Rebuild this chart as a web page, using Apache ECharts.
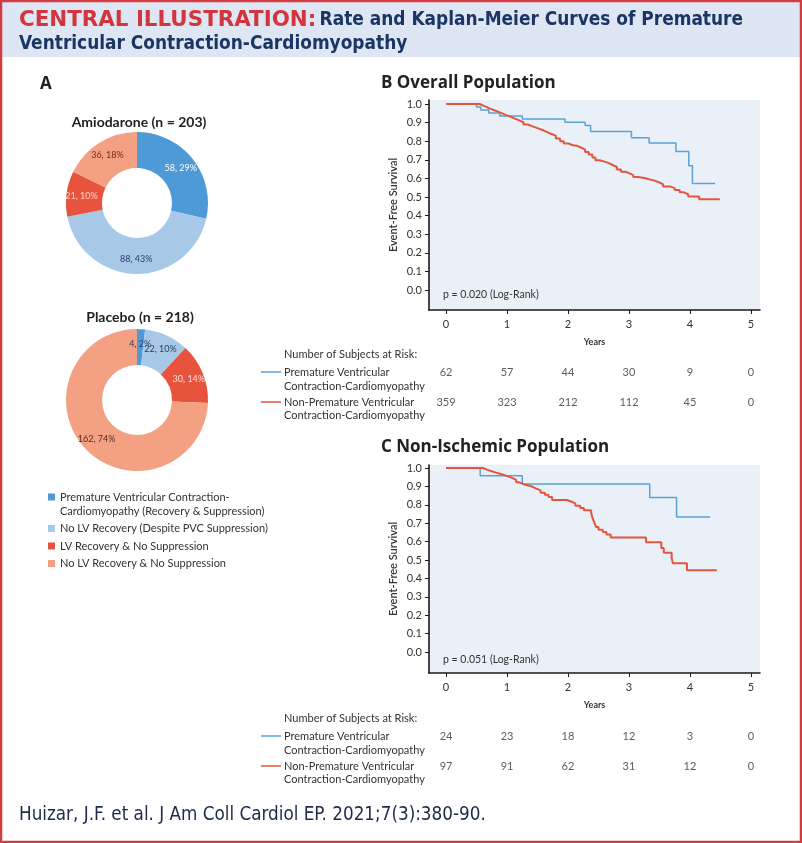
<!DOCTYPE html>
<html><head><meta charset="utf-8">
<script src="https://cdn.jsdelivr.net/npm/echarts@6/dist/echarts.min.js"></script>
<style>html,body{margin:0;padding:0;background:#fff;}#c{width:802px;height:843px;}</style>
</head><body><div id="c"></div>
<script>
// ---------------- DATA ----------------
const pieCategories = [
  'Premature Ventricular Contraction-Cardiomyopathy (Recovery & Suppression)',
  'No LV Recovery (Despite PVC Suppression)',
  'LV Recovery & No Suppression',
  'No LV Recovery & No Suppression'
];
const amiodaroneCounts = [58, 88, 21, 36];
const placeboCounts = [4, 22, 30, 162];

const yearTicks = [0, 1, 2, 3, 4, 5];
const survivalTicks = [0, 0.1, 0.2, 0.3, 0.4, 0.5, 0.6, 0.7, 0.8, 0.9, 1.0];

// Overall population KM curves [years, event-free survival]
const overallPVC = [
  [0, 1.0], [0.50, 0.984], [0.57, 0.968], [0.70, 0.952], [0.88, 0.936],
  [1.25, 0.919], [1.95, 0.902], [2.28, 0.885], [2.37, 0.852], [3.04, 0.818],
  [3.33, 0.79], [3.77, 0.745], [3.98, 0.668], [4.04, 0.572], [4.41, 0.572]
];
const overallNonPVC = [
  [0, 1.0], [0.55, 0.995], [0.58, 0.99], [0.62, 0.983], [0.67, 0.975], [0.72, 0.968],
  [0.78, 0.96], [0.84, 0.952], [0.90, 0.944], [0.96, 0.936], [1.02, 0.928], [1.08, 0.92],
  [1.14, 0.912], [1.20, 0.902], [1.27, 0.89], [1.34, 0.88], [1.42, 0.87], [1.50, 0.86],
  [1.58, 0.85], [1.65, 0.84], [1.72, 0.83], [1.80, 0.815], [1.87, 0.80], [1.93, 0.788],
  [2.00, 0.778], [2.08, 0.775], [2.15, 0.765], [2.22, 0.755], [2.28, 0.742], [2.34, 0.728],
  [2.40, 0.712], [2.45, 0.698], [2.52, 0.69], [2.60, 0.682], [2.67, 0.672], [2.73, 0.662],
  [2.80, 0.648], [2.87, 0.636], [2.94, 0.628], [3.00, 0.618], [3.07, 0.607], [3.15, 0.602],
  [3.25, 0.595], [3.33, 0.588], [3.42, 0.578], [3.50, 0.568], [3.56, 0.556], [3.68, 0.548],
  [3.75, 0.537], [3.83, 0.525], [3.90, 0.515], [3.97, 0.503], [4.15, 0.488], [4.49, 0.488]
];
// Non-ischemic population KM curves
const nonIschemicPVC = [
  [0, 1.0], [0.56, 0.958], [1.25, 0.913], [3.34, 0.84], [3.78, 0.734], [4.33, 0.734]
];
const nonIschemicNonPVC = [
  [0, 1.0], [0.60, 0.99], [0.68, 0.982], [0.75, 0.975], [0.82, 0.967], [0.90, 0.96],
  [0.97, 0.952], [1.04, 0.944], [1.10, 0.935], [1.15, 0.922], [1.20, 0.912], [1.27, 0.905],
  [1.35, 0.898], [1.42, 0.888], [1.48, 0.878], [1.55, 0.866], [1.62, 0.855], [1.68, 0.842],
  [1.74, 0.826], [1.98, 0.818], [2.05, 0.808], [2.12, 0.795], [2.20, 0.782], [2.26, 0.77],
  [2.38, 0.755], [2.40, 0.73], [2.43, 0.705], [2.46, 0.68], [2.50, 0.665], [2.57, 0.652],
  [2.63, 0.638], [2.70, 0.622], [3.28, 0.597], [3.53, 0.565], [3.57, 0.54], [3.70, 0.51],
  [3.72, 0.482], [3.95, 0.445], [4.44, 0.445]
];

// Number of subjects at risk at yearTicks
const overallRiskPVC = [62, 57, 44, 30, 9, 0];
const overallRiskNonPVC = [359, 323, 212, 112, 45, 0];
const nonIschRiskPVC = [24, 23, 18, 12, 3, 0];
const nonIschRiskNonPVC = [97, 91, 62, 31, 12, 0];

// ---------------- STYLE ----------------
const FONT = 'Lato, "Noto Sans", sans-serif';
const TITLEFONT = '"Open Sans", Lato, sans-serif';
const NARROW = '"DejaVu Sans Condensed", "Liberation Sans Narrow", sans-serif';
const sliceColors = ['#4d9ad6', '#a8c8e8', '#e8533e', '#f4a083'];
const amioLabelColors = ['#ffffff', '#2b3f66', '#f9d4c8', '#7a2a1c'];
const placeboLabelColors = ['#2b3f66', '#2b3f66', '#fbe0d6', '#5a2a20'];
const BLUE = '#5aa2d4';
const RED = '#e4553f';
const TXT = '#333333';

const chart = echarts.init(document.getElementById('c'), null, {renderer: 'canvas', width: 802, height: 843});

function pieSeries(name, counts, center, labelColors) {
  return {
    type: 'pie', name: name, center: center, radius: [35, 71], startAngle: 90, clockwise: true,
    percentPrecision: 0, avoidLabelOverlap: false, silent: true, minShowLabelAngle: 0,
    label: {show: true, position: 'inside', formatter: '{c}, {d}%', fontSize: 9, fontFamily: FONT},
    labelLine: {show: false},
    labelLayout: {hideOverlap: false},
    emphasis: {disabled: true},
    data: pieCategories.map((n, i) => ({
      name: n, value: counts[i], itemStyle: {color: sliceColors[i]}, label: {color: labelColors[i]}
    }))
  };
}

function kmAxes(gridIndex, yMin, yMax) {
  const axisLine = {show: true, onZero: false, lineStyle: {color: '#1a1a1a', width: 1.6}};
  return {
    x: {
      type: 'value', gridIndex: gridIndex, min: -0.279, max: 5.148,
      name: 'Years', nameLocation: 'middle', nameGap: 28,
      nameTextStyle: {fontSize: 9, fontWeight: 'bold', color: TXT, fontFamily: FONT},
      axisLine: axisLine,
      axisTick: {show: true, customValues: yearTicks, length: 4, lineStyle: {color: '#1a1a1a'}},
      axisLabel: {show: true, customValues: yearTicks, fontSize: 11, color: TXT, fontFamily: FONT, margin: 9},
      splitLine: {show: false}
    },
    y: {
      type: 'value', gridIndex: gridIndex, min: yMin, max: yMax,
      name: 'Event-Free Survival', nameLocation: 'middle', nameGap: 30, nameRotate: 90,
      nameTextStyle: {fontSize: 11, fontWeight: 600, color: TXT, fontFamily: FONT},
      axisLine: axisLine,
      axisTick: {show: true, customValues: survivalTicks, length: 4, lineStyle: {color: '#1a1a1a'}},
      axisLabel: {show: true, customValues: survivalTicks, fontSize: 11, color: TXT, fontFamily: FONT, margin: 7,
        formatter: v => v.toFixed(1)},
      splitLine: {show: false}
    }
  };
}
const axB = kmAxes(0, -0.1075, 1.0215);
const axC = kmAxes(1, -0.114, 1.0163);

function hiddenAxes(gridIndex) {
  return {
    x: {type: 'value', gridIndex: gridIndex, min: -0.279, max: 5.148, show: false},
    y: {type: 'value', gridIndex: gridIndex, min: 0, max: 1, show: false}
  };
}
const axRB = hiddenAxes(2);
const axRC = hiddenAxes(3);

function kmLine(name, data, color, width, xi, yi) {
  return {
    type: 'line', name: name, data: data, step: 'end', showSymbol: false, symbol: 'none',
    xAxisIndex: xi, yAxisIndex: yi, silent: true,
    lineStyle: {color: color, width: width}, itemStyle: {color: color}
  };
}
function riskRow(counts, rowVal, xi, yi) {
  return {
    type: 'scatter', xAxisIndex: xi, yAxisIndex: yi, symbolSize: 1, silent: true,
    itemStyle: {color: 'rgba(0,0,0,0)'},
    data: yearTicks.map((t, i) => [t, rowVal, counts[i]]),
    label: {show: true, position: 'inside', formatter: p => String(p.value[2]),
      fontSize: 11, color: TXT, fontFamily: FONT}
  };
}

function txt(x, y, text, opts) {
  opts = opts || {};
  return {
    type: 'text', x: x, y: y, silent: true,
    style: Object.assign({
      text: text, fill: TXT, fontSize: 11, fontFamily: FONT,
      textAlign: 'left', textVerticalAlign: 'middle', align: 'left', verticalAlign: 'middle'
    }, opts)
  };
}
function riskLabels(dy) {
  return [
    txt(284, 354 + dy, 'Number of Subjects at Risk:'),
    txt(284, 372 + dy, 'Premature Ventricular'),
    txt(284, 386 + dy, 'Contraction-Cardiomyopathy'),
    txt(284, 402 + dy, 'Non-Premature Ventricular'),
    txt(284, 415 + dy, 'Contraction-Cardiomyopathy'),
    {type: 'line', silent: true, shape: {x1: 261, y1: 372 + dy, x2: 281, y2: 372 + dy}, style: {stroke: BLUE, lineWidth: 1.5}},
    {type: 'line', silent: true, shape: {x1: 261, y1: 402 + dy, x2: 281, y2: 402 + dy}, style: {stroke: RED, lineWidth: 1.5}}
  ];
}

const graphics = [
  {type: 'rect', silent: true, z: -10, shape: {x: 1, y: 1, width: 800, height: 56}, style: {fill: '#dde6f2'}},
  {type: 'rect', silent: true, z: 100, shape: {x: 1, y: 1, width: 800, height: 841}, style: {fill: 'none', stroke: '#d33c42', lineWidth: 2.5}},
  {
    type: 'text', x: 19, y: 8, silent: true,
    style: {
      text: '{r|CENTRAL ILLUSTRATION:} {n|Rate and Kaplan-Meier Curves of Premature}\n{n|Ventricular Contraction-Cardiomyopathy}',
      rich: {
        r: {fill: '#d2363c', fontSize: 21.4, fontWeight: 'bold', fontFamily: '"DejaVu Sans", sans-serif', lineHeight: 24},
        n: {fill: '#1b3565', fontSize: 18.9, fontWeight: 'bold', fontFamily: NARROW, lineHeight: 24}
      },
      textAlign: 'left', textVerticalAlign: 'top', align: 'left', verticalAlign: 'top'
    }
  },
  txt(19, 815, 'Huizar, J.F. et al. J Am Coll Cardiol EP. 2021;7(3):380-90.', {fontSize: 18.7, fontFamily: NARROW, fill: '#1d2a48'}),
  txt(40, 84, 'A', {fontSize: 17, fontWeight: 'bold', fill: '#222', fontFamily: TITLEFONT}),
  txt(381, 83, 'B Overall Population', {fontSize: 17, fontWeight: 'bold', fill: '#222', fontFamily: TITLEFONT}),
  txt(381, 447, 'C Non-Ischemic Population', {fontSize: 17, fontWeight: 'bold', fill: '#222', fontFamily: TITLEFONT}),
  txt(139, 122, 'Amiodarone (n = 203)', {fontSize: 14, fontWeight: 'bold', fill: '#222', textAlign: 'center', align: 'center'}),
  txt(140, 317, 'Placebo (n = 218)', {fontSize: 14, fontWeight: 'bold', fill: '#222', textAlign: 'center', align: 'center'}),
  txt(443, 295, 'p = 0.020 (Log-Rank)', {fontSize: 10.5}),
  txt(443, 660, 'p = 0.051 (Log-Rank)', {fontSize: 10.5})
].concat(riskLabels(0), riskLabels(364));

const option = {
  animation: false,
  backgroundColor: '#ffffff',
  grid: [
    {left: 429, right: 42, top: 100, height: 210, show: true, backgroundColor: '#eaf0f8', borderWidth: 0, containLabel: false, outerBoundsMode: 'none'},
    {left: 429, right: 42, top: 465, height: 208, show: true, backgroundColor: '#eaf0f8', borderWidth: 0, containLabel: false, outerBoundsMode: 'none'},
    {left: 429, right: 42, top: 372, height: 30, containLabel: false, outerBoundsMode: 'none'},
    {left: 429, right: 42, top: 736, height: 30, containLabel: false, outerBoundsMode: 'none'}
  ],
  xAxis: [axB.x, axC.x, axRB.x, axRC.x],
  yAxis: [axB.y, axC.y, axRB.y, axRC.y],
  legend: {
    orient: 'vertical', left: 48, top: 476, padding: 0, itemWidth: 7, itemHeight: 7, itemGap: 3.5, icon: 'rect',
    selectedMode: false,
    textStyle: {fontSize: 11, color: TXT, fontFamily: FONT, lineHeight: 14},
    formatter: n => n === pieCategories[0] ? ' \nPremature Ventricular Contraction-\nCardiomyopathy (Recovery & Suppression)' : n,
    data: pieCategories
  },
  series: [
    pieSeries('Amiodarone', amiodaroneCounts, [137, 203], amioLabelColors),
    pieSeries('Placebo', placeboCounts, [137, 400], placeboLabelColors),
    kmLine('Premature Ventricular Contraction-Cardiomyopathy', overallPVC, BLUE, 1.5, 0, 0),
    kmLine('Non-Premature Ventricular Contraction-Cardiomyopathy', overallNonPVC, RED, 2, 0, 0),
    kmLine('Premature Ventricular Contraction-Cardiomyopathy', nonIschemicPVC, BLUE, 1.5, 1, 1),
    kmLine('Non-Premature Ventricular Contraction-Cardiomyopathy', nonIschemicNonPVC, RED, 2, 1, 1),
    riskRow(overallRiskPVC, 1, 2, 2),
    riskRow(overallRiskNonPVC, 0, 2, 2),
    riskRow(nonIschRiskPVC, 1, 3, 3),
    riskRow(nonIschRiskNonPVC, 0, 3, 3)
  ],
  graphic: graphics
};
chart.setOption(option);
</script>
</body></html>
